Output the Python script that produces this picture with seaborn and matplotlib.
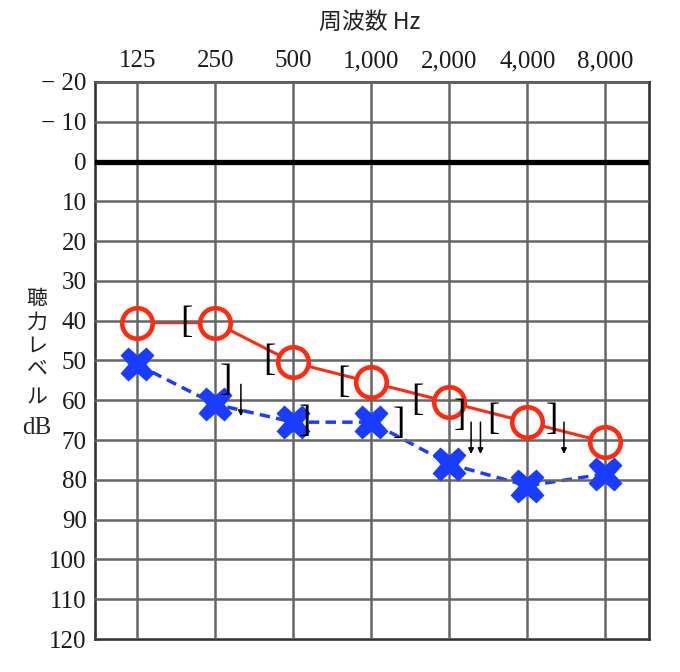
import numpy as np
import pandas as pd
import seaborn as sns
import matplotlib
matplotlib.use("Agg")
import matplotlib.pyplot as plt

# ---------------- data ----------------
freq_labels = ["125", "250", "500", "1,000", "2,000", "4,000", "8,000"]
db_ticks = list(range(-20, 130, 10))
right_air = [40.5, 40.5, 50.5, 55.5, 60.5, 65.5, 70.5]     # red O
left_air = [51, 61, 65.5, 65.5, 76, 81.5, 78.5]            # blue X
right_bone_idx = [1, 2, 3, 4, 5]                           # "["
right_bone_db = [40.5, 50, 55.5, 60, 65]
left_bone_idx = [1, 2, 3, 4, 5]                            # "]"
left_bone_db = [55, 65.5, 66, 64, 65]
arrow_idx = [1, 4, 4, 5]                                   # scale-out arrows
arrow_db = [60, 69.5, 69.5, 69.5]

# --------------- styles / offsets ---------------
rb_dx = [-0.37, -0.31, -0.35, -0.41, -0.44]
lb_dx = [0.14, 0.15, 0.36, 0.14, 0.32]
arrow_dx = [0.33, 0.28, 0.40, 0.47]
RED = "#ff2a12"
BLUE = "#1a3cff"
GRID = "#666666"
SERIF = "Liberation Serif"
CJK = ["Noto Sans CJK JP", "DejaVu Sans"]

sns.set_theme(style="white")
plt.rcParams["font.family"] = [SERIF, "DejaVu Serif"]

fig = plt.figure(figsize=(6.8, 6.72), dpi=100)
ax = fig.add_axes([95 / 680, 1 - 639 / 672, 554 / 680, 557 / 672])

idx = list(range(len(freq_labels)))
df = pd.DataFrame({
    "idx": idx * 2,
    "db": right_air + left_air,
    "ear": ["right"] * len(idx) + ["left"] * len(idx),
})

# connecting lines
sns.lineplot(data=df[df.ear == "right"], x="idx", y="db", color=RED, lw=2.2,
             ax=ax, zorder=1.5, legend=False)
sns.lineplot(data=df[df.ear == "left"], x="idx", y="db", color=BLUE, lw=2.5,
             ax=ax, zorder=1.5, legend=False, linestyle=(0, (3.0, 1.8)))

# white inner of O (hides line), then grid, then ring
ax.plot(idx, right_air, ls="none", marker="o", ms=22, mfc="white", mec="none", zorder=2)
ax.set_axisbelow(False)
ax.grid(True, color=GRID, lw=1.8)
ax.axhline(0, color="black", lw=3.8, zorder=2.6)
ax.plot(idx, right_air, ls="none", marker="o", ms=22, mfc="none", mec=RED, mew=3.3, zorder=3)
ax.plot(idx, left_air, ls="none", marker="X", ms=25, mfc=BLUE, mec="none", zorder=3)

# bone conduction brackets
for i, d, dx in zip(right_bone_idx, right_bone_db, rb_dx):
    ax.text(i + dx, d, "[", fontsize=27, ha="center", va="center", color="black",
            family=SERIF, zorder=4)
for i, d, dx in zip(left_bone_idx, left_bone_db, lb_dx):
    ax.text(i + dx, d, "]", fontsize=27, ha="center", va="center", color="black",
            family=SERIF, zorder=4)

# scale-out arrows
for i, d, dx in zip(arrow_idx, arrow_db, arrow_dx):
    ax.annotate("", xy=(i + dx, d + 4.0), xytext=(i + dx, d - 4.0),
                arrowprops=dict(arrowstyle="-|>", color="black", lw=1.1,
                                mutation_scale=8, shrinkA=0, shrinkB=0),
                zorder=4)

ax.set_xlim(-0.54, 6.56)
ax.set_ylim(120, -20)
ax.set_xticks(idx)
ax.set_xticklabels(freq_labels)
ax.set_yticks(db_ticks)
ax.set_yticklabels([("− " + str(abs(v))) if v < 0 else str(v) for v in db_ticks])
ax.xaxis.tick_top()
ax.tick_params(axis="x", length=0, pad=7, labelsize=18, labelcolor="#1a1a1a")
ax.tick_params(axis="y", length=0, pad=6, labelsize=18, labelcolor="#1a1a1a")
ax.set_xlabel("")
ax.set_ylabel("")
for s in ax.spines.values():
    s.set_visible(True)
    s.set_color("#333333")
    s.set_linewidth(1.9)

# titles
fig.text(370 / 680, 1 - 22 / 672, "周波数 Hz", fontsize=16.5, ha="center", va="center",
         family=CJK, color="#222222")
ylab_chars = ["聴", "力", "レ", "ベ", "ル", "dB"]
ylab_y = [299, 323, 346, 369, 398, 428]
for ch, yy in zip(ylab_chars, ylab_y):
    fig.text(37 / 680, 1 - yy / 672, ch, fontsize=15 if ch != "dB" else 18,
             ha="center", va="center",
             family=CJK if ch != "dB" else [SERIF], color="#222222")

fig.savefig("out.png", dpi=100, facecolor="white")
